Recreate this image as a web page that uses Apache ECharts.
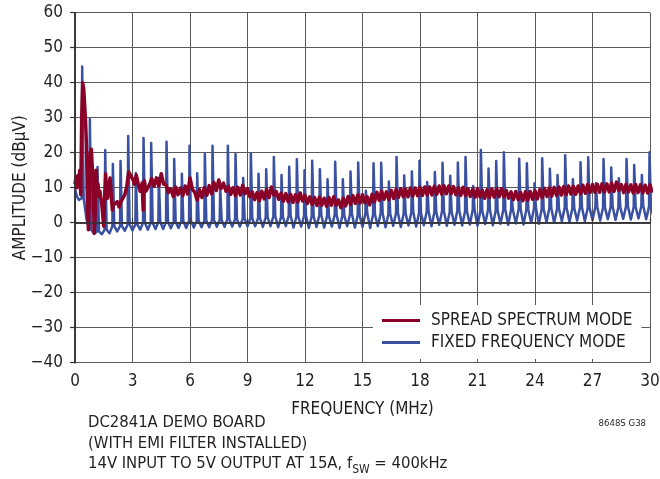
<!DOCTYPE html>
<html>
<head>
<meta charset="utf-8">
<script src="https://cdn.jsdelivr.net/npm/echarts@6/dist/echarts.min.js"></script>
<style>
html,body{margin:0;padding:0;background:#fff;}
#c{width:660px;height:479px;}
</style>
</head>
<body>
<div id="c"></div>
<script>
// ---- tick labels / axes ----
const xTicks = [0, 3, 6, 9, 12, 15, 18, 21, 24, 27, 30];
const yTicks = [-40, -30, -20, -10, 0, 10, 20, 30, 40, 50, 60];

// ---- FIXED FREQUENCY MODE (harmonics of fSW = 400kHz) ----
const harmonicMHz = [0.4,0.8,1.2,1.6,2.0,2.4,2.8,3.2,3.6,4.0,4.4,4.8,5.2,5.6,6.0,6.4,6.8,7.2,7.6,8.0,
  8.4,8.8,9.2,9.6,10.0,10.4,10.8,11.2,11.6,12.0,12.4,12.8,13.2,13.6,14.0,14.4,14.8,15.2,15.6,16.0,
  16.4,16.8,17.2,17.6,18.0,18.4,18.8,19.2,19.6,20.0,20.4,20.8,21.2,21.6,22.0,22.4,22.8,23.2,23.6,24.0,
  24.4,24.8,25.2,25.6,26.0,26.4,26.8,27.2,27.6,28.0,28.4,28.8,29.2,29.6,30.0];
const fixedPeakDb = [44.6,29.6,15.9,20.8,16.8,17.6,24.8,14.2,24.2,22.8,12.8,23.1,18.2,14.0,22.0,14.1,19.6,22.0,10.2,22.0,
  19.6,12.8,19.8,14.0,15.3,18.8,13.6,16.0,18.1,15.0,17.7,15.3,12.4,17.4,12.4,14.6,17.2,9.1,17.0,17.1,
  11.8,18.8,13.5,14.6,17.7,11.6,14.5,17.1,13.4,17.2,18.8,10.5,20.8,15.5,17.6,20.1,8.0,18.3,17.0,11.3,
  18.4,15.4,13.6,19.3,12.4,17.3,18.7,11.3,18.2,15.8,12.7,18.2,16.5,13.6,20.1];
const fixedSkirtDb = [7.0,-2.0,-2.5,-2.0,-1.0,-1.0,-0.5,-0.5,0.0,0.0,0.2,0.3,0.3,0.5,0.5,0.6,0.6,0.8,0.8,1.0,
  1.0,1.1,1.2,1.3,1.5,1.8,1.6,2.0,1.7,2.0,1.8,2.2,1.9,2.3,2.0,2.4,2.1,2.6,2.3,2.7,
  2.4,2.8,2.6,3.0,2.8,3.2,3.0,3.3,3.1,3.5,3.3,3.6,3.4,3.7,3.5,3.8,3.6,4.0,3.8,4.1,
  3.9,4.2,4.0,4.3,4.1,4.4,4.2,4.5,4.3,4.6,4.4,4.7,4.5,4.8,4.6];
const fixedFloorDb = [1.0,-3.2,-3.3,-3.0,-2.5,-2.3,-2.2,-2.0,-2.0,-1.8,-1.8,-1.6,-1.5,-1.5,-1.4,-1.3,-1.3,-1.2,-1.2,-1.1,
  -1.1,-1.0,-1.0,-1.2,-1.0,-1.3,-1.0,-1.4,-1.1,-1.5,-1.2,-1.4,-1.1,-1.5,-1.0,-1.4,-1.2,-1.5,-1.0,-1.3,
  -0.9,-1.2,-0.8,-1.1,-0.7,-1.0,-0.6,-0.9,-0.6,-0.8,-0.5,-0.9,-0.4,-0.7,-0.3,-0.6,-0.2,-0.5,0.0,-0.3,
  0.2,0.0,0.4,0.2,0.6,0.4,0.8,0.6,1.0,0.8,1.1,0.9,1.2,1.0,1.3];
const fixedLeadMHz = [0.0, 0.1, 0.2, 0.3];
const fixedLeadDb  = [9.5, 7.5, 6.5, 7.0];

// ---- SPREAD SPECTRUM MODE ----
const spreadEarlyMHz = [0.0,0.05,0.1,0.15,0.2,0.25,0.3,0.35,0.4,0.45,0.5,0.55,0.6,0.65,0.7,0.75,0.8,0.85,0.9,0.95,
  1.0,1.05,1.1,1.15,1.2,1.25,1.3,1.4,1.5,1.55,1.6,1.65,1.7,1.75,1.83,1.9,1.95,2.0,2.1,2.2,
  2.3,2.4,2.5,2.6,2.7,2.8,2.9,3.0,3.05,3.1,3.2,3.3,3.4,3.5,3.56,3.62,3.7,3.8,3.9];
const spreadEarlyDb = [11,13,10,13.5,10.5,15,8,30,40,38.5,34,29,22,5,-2,8,20,21,16,12,
  -3,2,15,10,11,7.5,9,5,-1,8,14,8,7,10,12.8,7,3.6,5,4.6,6,
  4.5,6,7,8,10.3,14.5,13.6,14,12,11,13.6,11,9,11.3,3.6,12,9,8.5,11];
const spreadBandMHz = [4.0,4.25,4.5,4.75,5.0,5.25,5.5,5.75,6.0,6.25,6.5,6.75,7.0,7.25,7.5,7.75,8.0,8.25,8.5,8.75,
  9.0,9.25,9.5,9.75,10.0,10.25,10.5,10.75,11.0,11.25,11.5,11.75,12.0,12.25,12.5,12.75,13.0,13.25,13.5,13.75,
  14.0,14.25,14.5,14.75,15.0,15.25,15.5,15.75,16.0,16.25,16.5,16.75,17.0,17.25,17.5,17.75,18.0,18.25,18.5,18.75,
  19.0,19.25,19.5,19.75,20.0,20.25,20.5,20.75,21.0,21.25,21.5,21.75,22.0,22.25,22.5,22.75,23.0,23.25,23.5,23.75,
  24.0,24.25,24.5,24.75,25.0,25.25,25.5,25.75,26.0,26.25,26.5,26.75,27.0,27.25,27.5,27.75,28.0,28.25,28.5,28.75,
  29.0,29.25,29.5,29.75,30.0];
const spreadHiDb = [12.6,12.8,14.0,10.8,9.7,10.2,9.9,10.5,12.8,8.7,9.4,10.0,10.6,11.5,12.2,11.3,10.4,10.0,10.1,10.7,
  9.7,8.8,8.6,9.0,9.5,10.2,8.9,8.4,8.3,8.1,8.0,8.5,7.8,7.4,7.2,7.3,7.0,7.2,7.4,6.5,
  7.0,7.5,7.7,7.9,8.0,7.4,8.1,8.7,9.0,8.8,9.2,9.5,9.7,9.6,9.9,9.9,10.1,10.2,10.2,10.4,
  10.5,10.6,10.5,10.3,10.0,10.1,9.7,9.6,9.7,9.3,9.4,9.6,9.7,9.7,9.2,8.8,8.9,8.6,8.8,8.9,
  9.1,9.4,9.8,9.9,10.1,10.2,10.3,10.5,10.4,10.5,10.7,10.9,10.9,11.0,11.1,11.1,11.3,11.6,10.9,11.0,
  10.8,10.9,10.8,10.7,10.8];
const spreadLoDb = [10.4,10.5,11.0,8.6,7.5,8.0,7.7,8.2,9.5,6.4,7.2,7.8,8.3,9.2,9.8,9.0,8.1,7.7,7.9,8.3,
  7.4,6.6,6.3,6.8,7.2,7.9,6.7,6.1,6.0,5.8,5.9,6.2,5.5,5.2,4.9,5.0,4.7,5.0,5.0,4.3,
  4.8,5.2,5.5,5.6,5.7,5.1,5.9,6.4,6.7,6.6,6.9,7.2,7.4,7.4,7.6,7.7,7.8,7.9,7.9,8.1,
  8.2,8.3,8.3,8.0,7.8,7.8,7.5,7.3,7.4,7.0,7.2,7.3,7.4,7.4,7.0,6.6,6.6,6.3,6.5,6.7,
  6.8,7.1,7.5,7.6,7.8,7.9,8.0,8.2,8.1,8.3,8.4,8.6,8.7,8.7,8.8,8.8,9.0,9.2,8.6,8.8,
  8.5,8.6,8.5,8.5,8.6];

// ---- build series data from arrays ----
const fixedData = [];
fixedLeadMHz.forEach((f, i) => fixedData.push([f, fixedLeadDb[i]]));
harmonicMHz.forEach((f, i) => {
  fixedData.push([f - 0.05, fixedSkirtDb[i]]);
  fixedData.push([f - 0.025, fixedPeakDb[i]]);
  fixedData.push([f + 0.025, fixedPeakDb[i]]);
  fixedData.push([f + 0.05, fixedSkirtDb[i]]);
  fixedData.push([f + 0.2, fixedFloorDb[i]]);
});
const spreadData = [];
spreadEarlyMHz.forEach((f, i) => spreadData.push([f, spreadEarlyDb[i]]));
spreadBandMHz.forEach((f, i) => {
  spreadData.push([f, spreadHiDb[i]]);
  spreadData.push([f + 0.125, spreadLoDb[i]]);
});

const FONT = "'Liberation Sans Narrow', 'DejaVu Sans Condensed', 'Liberation Sans', sans-serif";
const FS = 17;
const NOTE_FS = 16.5;
const TXT = '#231f20';
const GRID = '#5a5a5a';
const RED = '#8a0026';
const BLUE = '#3a51a3';

const chart = echarts.init(document.getElementById('c'), null, {renderer: 'canvas'});
const minus = v => String(v).replace('-', '\u2212');

chart.setOption({
  animation: false,
  backgroundColor: '#fff',
  textStyle: {fontFamily: FONT, color: TXT},
  grid: {left: 75, right: 10, top: 12.7, bottom: 116.3, containLabel: false, outerBoundsMode: 'none'},
  xAxis: [
    { // bottom: labels + ticks (drawn above legend)
      type: 'value', position: 'bottom', min: xTicks[0], max: xTicks[xTicks.length - 1], interval: 3, z: 10,
      name: 'FREQUENCY (MHz)', nameLocation: 'middle', nameGap: 38, nameMoveOverlap: false,
      nameTextStyle: {fontFamily: FONT, fontSize: FS, color: TXT},
      axisLine: {show: true, lineStyle: {color: '#333', width: 1.5}},
      axisTick: {show: true, inside: true, length: 5, lineStyle: {color: '#333', width: 1.2}},
      axisLabel: {fontFamily: FONT, fontSize: FS, color: TXT, margin: 10},
      splitLine: {show: false}
    },
    { // top: frame + grid lines
      type: 'value', position: 'top', min: xTicks[0], max: xTicks[xTicks.length - 1], interval: 3,
      axisLine: {show: true, lineStyle: {color: '#333', width: 1.5}},
      axisTick: {show: false}, axisLabel: {show: false},
      splitLine: {show: true, lineStyle: {color: GRID, width: 1}}
    }
  ],
  yAxis: [
    { // left: labels + grid lines
      type: 'value', position: 'left', min: yTicks[0], max: yTicks[yTicks.length - 1], interval: 10,
      name: 'AMPLITUDE (dB\u03bcV)', nameLocation: 'middle', nameGap: 46, nameRotate: 90, nameMoveOverlap: false,
      nameTextStyle: {fontFamily: FONT, fontSize: FS, color: TXT},
      axisLine: {show: true, lineStyle: {color: '#333', width: 1.5}},
      axisTick: {show: false},
      axisLabel: {fontFamily: FONT, fontSize: FS, color: TXT, margin: 12, formatter: minus},
      splitLine: {show: true, lineStyle: {color: GRID, width: 1}}
    },
    { // right: frame + ticks above legend
      type: 'value', position: 'right', min: yTicks[0], max: yTicks[yTicks.length - 1], interval: 10, z: 10,
      axisLine: {show: true, lineStyle: {color: '#333', width: 1.5}},
      axisTick: {show: true, inside: true, length: 5, lineStyle: {color: '#333', width: 1.2}},
      axisLabel: {show: false},
      splitLine: {show: false}
    }
  ],
  legend: {
    orient: 'vertical',
    left: 373, top: 305,
    padding: [7, 9, 8, 9],
    backgroundColor: '#fff',
    itemGap: 5,
    itemWidth: 38, itemHeight: 3,
    icon: 'rect',
    data: ['SPREAD SPECTRUM MODE', 'FIXED FREQUENCY MODE'],
    textStyle: {fontFamily: FONT, fontSize: FS, color: TXT, lineHeight: 17, padding: [0, 0, 0, 6]}
  },
  series: [
    {
      name: 'FIXED FREQUENCY MODE', type: 'line', xAxisIndex: 0, yAxisIndex: 0,
      data: fixedData, showSymbol: false, symbol: 'none',
      lineStyle: {color: BLUE, width: 2.5, join: 'round'},
      itemStyle: {color: BLUE}
    },
    {
      name: 'SPREAD SPECTRUM MODE', type: 'line', xAxisIndex: 0, yAxisIndex: 0,
      data: spreadData, showSymbol: false, symbol: 'none',
      lineStyle: {color: RED, width: 3.5, join: 'round'},
      itemStyle: {color: RED}
    }
  ],
  graphic: [
    {type: 'text', left: 88, top: 414, style: {text: 'DC2841A DEMO BOARD', font: NOTE_FS + 'px ' + FONT, fill: TXT}},
    {type: 'text', left: 88, top: 435, style: {text: '(WITH EMI FILTER INSTALLED)', font: NOTE_FS + 'px ' + FONT, fill: TXT}},
    {type: 'text', left: 88, top: 452, style: {
      text: '14V INPUT TO 5V OUTPUT AT 15A, f{sub|SW} = 400kHz',
      font: NOTE_FS + 'px ' + FONT, fill: TXT, lineHeight: 24,
      rich: {sub: {fontFamily: FONT, fontSize: 12, fill: TXT, color: TXT, lineHeight: 12, verticalAlign: 'bottom'}}
    }},
    {type: 'text', right: 14, top: 419, style: {text: '8648S G38', font: '9.5px ' + FONT, fill: TXT}}
  ]
});
</script>
</body>
</html>
